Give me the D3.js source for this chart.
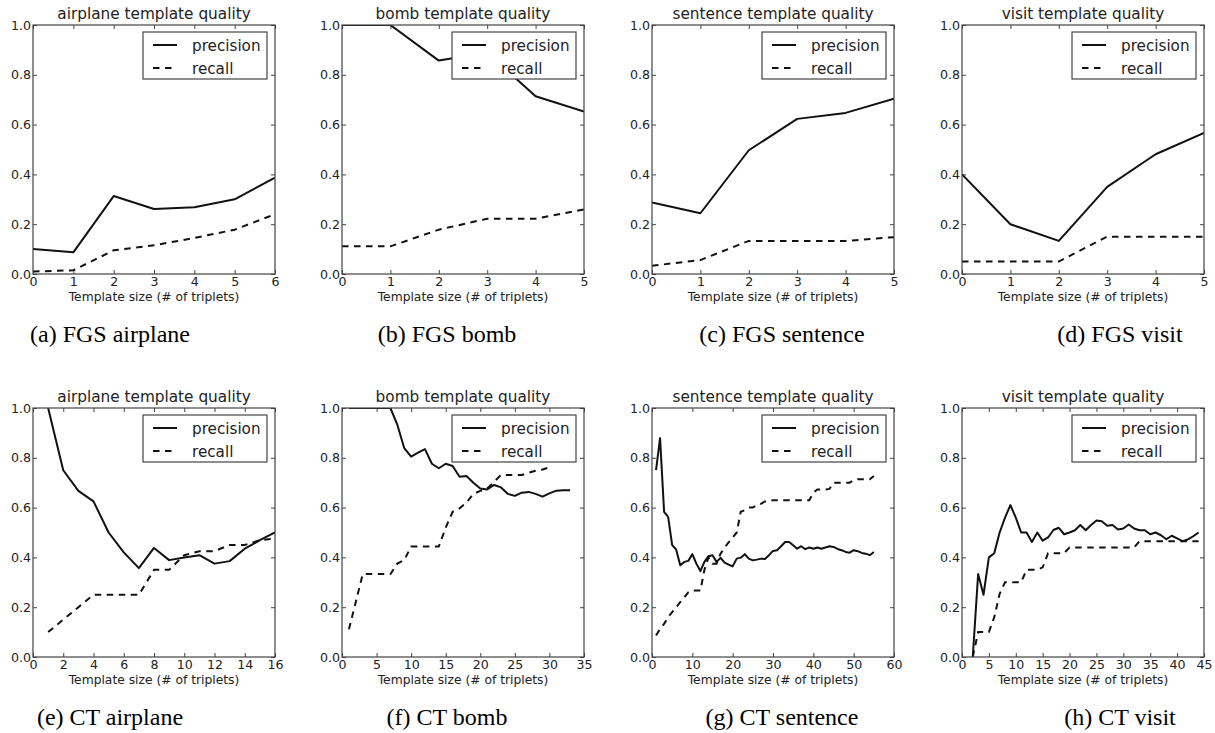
<!DOCTYPE html>
<html>
<head>
<meta charset="utf-8">
<script src="https://cdn.jsdelivr.net/npm/d3@7/dist/d3.min.js"></script>
<style>
  body { margin: 0; background: #fff; }
  svg { display: block; }
  .tick text { font-family: "DejaVu Sans", sans-serif; font-size: 12.6px; fill: #222; }
  .tick line { stroke: #444; }
</style>
</head>
<body>
<div id="chart"></div>
<script>
// ---- data ----
var seriesNames = ["precision", "recall"];
var xLabel = "Template size (# of triplets)";
var yTicks = [0, 0.2, 0.4, 0.6, 0.8, 1.0];

// FGS (top row), template sizes start at 0
var fgsAirplanePrecision = [0.10, 0.087, 0.313, 0.261, 0.268, 0.30, 0.387];
var fgsAirplaneRecall    = [0.01, 0.015, 0.095, 0.115, 0.145, 0.178, 0.24];
var fgsBombPrecision     = [1.0, 1.0, 0.857, 0.889, 0.714, 0.652];
var fgsBombRecall        = [0.111, 0.111, 0.178, 0.222, 0.222, 0.259];
var fgsSentencePrecision = [0.287, 0.244, 0.497, 0.623, 0.647, 0.704];
var fgsSentenceRecall    = [0.033, 0.056, 0.133, 0.133, 0.133, 0.148];
var fgsVisitPrecision    = [0.40, 0.20, 0.133, 0.35, 0.481, 0.567];
var fgsVisitRecall       = [0.05, 0.05, 0.05, 0.15, 0.15, 0.15];

// CT (bottom row)
var ctAirplaneStart = 1;
var ctAirplanePrecision = [1.0, 0.75, 0.667, 0.625, 0.5, 0.42, 0.357, 0.438, 0.389, 0.40, 0.409, 0.375, 0.385, 0.435, 0.469, 0.50];
var ctAirplaneRecall    = [0.10, 0.15, 0.20, 0.25, 0.25, 0.25, 0.25, 0.35, 0.35, 0.409, 0.425, 0.425, 0.45, 0.45, 0.469, 0.476];

var ctBombStart = 1;
var ctBombPrecision = [1, 1, 1, 1, 1, 1, 1, 0.933, 0.839, 0.805, 0.821, 0.835, 0.776, 0.758, 0.776, 0.767, 0.724,
  0.727, 0.70, 0.677, 0.673, 0.691, 0.681, 0.655, 0.647, 0.66, 0.663, 0.655, 0.644, 0.657, 0.668, 0.67, 0.67];
var ctBombRecall = [0.111, 0.222, 0.333, 0.333, 0.333, 0.333, 0.333, 0.375, 0.389, 0.444, 0.444, 0.444, 0.444, 0.444,
  0.52, 0.583, 0.597, 0.62, 0.655, 0.667, 0.677, 0.704, 0.731, 0.731, 0.731, 0.731, 0.74, 0.748, 0.753, 0.762];

var ctSentenceStart = 1;
var ctSentencePrecision = [0.751, 0.879, 0.583, 0.563, 0.449, 0.431, 0.368, 0.382, 0.386, 0.413, 0.375, 0.345, 0.382,
  0.405, 0.409, 0.382, 0.398, 0.379, 0.371, 0.364, 0.395, 0.399, 0.413, 0.395, 0.388, 0.391, 0.395, 0.394, 0.409,
  0.426, 0.429, 0.445, 0.462, 0.462, 0.449, 0.435, 0.445, 0.433, 0.44, 0.435, 0.44, 0.435, 0.44, 0.445, 0.442,
  0.434, 0.429, 0.422, 0.419, 0.429, 0.425, 0.418, 0.415, 0.409, 0.422];
var ctSentenceRecall = [0.086, 0.113, 0.133, 0.16, 0.18, 0.20, 0.22, 0.24, 0.26, 0.267, 0.267, 0.267, 0.35, 0.40,
  0.375, 0.375, 0.415, 0.44, 0.46, 0.48, 0.50, 0.583, 0.59, 0.60, 0.60, 0.61, 0.615, 0.625, 0.625, 0.63, 0.63,
  0.63, 0.63, 0.63, 0.63, 0.63, 0.63, 0.63, 0.63, 0.66, 0.673, 0.673, 0.673, 0.675, 0.70, 0.70, 0.70, 0.70, 0.70,
  0.711, 0.714, 0.714, 0.714, 0.714, 0.727];

var ctVisitStart = 2;
var ctVisitPrecision = [0, 0.333, 0.25, 0.40, 0.417, 0.50, 0.56, 0.61, 0.56, 0.50, 0.50, 0.462, 0.50, 0.467, 0.48,
  0.51, 0.519, 0.493, 0.50, 0.509, 0.53, 0.509, 0.53, 0.548, 0.545, 0.527, 0.53, 0.512, 0.516, 0.532, 0.516,
  0.509, 0.509, 0.493, 0.50, 0.489, 0.473, 0.487, 0.476, 0.465, 0.472, 0.485, 0.50];
var ctVisitRecall = [0, 0.10, 0.10, 0.10, 0.16, 0.254, 0.30, 0.30, 0.30, 0.30, 0.35, 0.35, 0.35, 0.36, 0.417, 0.417,
  0.417, 0.417, 0.44, 0.44, 0.44, 0.44, 0.44, 0.44, 0.44, 0.44, 0.44, 0.44, 0.44, 0.44, 0.44, 0.465, 0.465, 0.465,
  0.465, 0.465, 0.465, 0.465, 0.465, 0.465, 0.465, 0.465, 0.465];

var titles = ["airplane template quality", "bomb template quality", "sentence template quality", "visit template quality"];
var captions = ["(a) FGS airplane", "(b) FGS bomb", "(c) FGS sentence", "(d) FGS visit",
                "(e) CT airplane", "(f) CT bomb", "(g) CT sentence", "(h) CT visit"];
var xMaxes = [6, 5, 5, 5, 16, 35, 60, 45];
var xTickLists = [
  [0, 1, 2, 3, 4, 5, 6], [0, 1, 2, 3, 4, 5], [0, 1, 2, 3, 4, 5], [0, 1, 2, 3, 4, 5],
  [0, 2, 4, 6, 8, 10, 12, 14, 16], [0, 5, 10, 15, 20, 25, 30, 35],
  [0, 10, 20, 30, 40, 50, 60], [0, 5, 10, 15, 20, 25, 30, 35, 40, 45]
];

var panels = [
  { start: 0, p: fgsAirplanePrecision, r: fgsAirplaneRecall },
  { start: 0, p: fgsBombPrecision, r: fgsBombRecall },
  { start: 0, p: fgsSentencePrecision, r: fgsSentenceRecall },
  { start: 0, p: fgsVisitPrecision, r: fgsVisitRecall },
  { start: ctAirplaneStart, p: ctAirplanePrecision, r: ctAirplaneRecall },
  { start: ctBombStart, p: ctBombPrecision, r: ctBombRecall },
  { start: ctSentenceStart, p: ctSentencePrecision, r: ctSentenceRecall },
  { start: ctVisitStart, p: ctVisitPrecision, r: ctVisitRecall }
];

// ---- layout ----
var width = 1215, height = 733;
var panelLeft = [33, 342, 652, 962];
var rowTop = [25, 408];
var pw = 242, ph = 249;
var captionX = [110, 447, 782, 1120];
var captionY = [342, 725];
var dash = "6.5,5.5";

var svg = d3.select("#chart").append("svg")
    .attr("width", width)
    .attr("height", height);

svg.append("rect").attr("width", width).attr("height", height).attr("fill", "#fff");

panels.forEach(function (pd, k) {
  var col = k % 4, row = Math.floor(k / 4);

  var x = d3.scaleLinear().domain([0, xMaxes[k]]).range([0, pw]);
  var y = d3.scaleLinear().domain([0, 1]).range([ph, 0]);

  var g = svg.append("g")
      .attr("transform", "translate(" + panelLeft[col] + "," + rowTop[row] + ")");

  g.append("clipPath").attr("id", "clip" + k)
    .append("rect").attr("width", pw).attr("height", ph);

  // axes, ticks pointing inward on all four sides
  g.append("g")
      .attr("transform", "translate(0," + ph + ")")
      .call(d3.axisBottom(x).tickValues(xTickLists[k]).tickFormat(d3.format("d"))
        .tickSizeInner(-4).tickSizeOuter(0).tickPadding(3.5))
      .call(function (a) { a.select(".domain").remove(); });
  g.append("g")
      .call(d3.axisTop(x).tickValues(xTickLists[k]).tickSizeInner(-4).tickSizeOuter(0).tickFormat(""))
      .call(function (a) { a.select(".domain").remove(); });
  g.append("g")
      .call(d3.axisLeft(y).tickValues(yTicks).tickFormat(d3.format(".1f")).tickSizeInner(-4).tickSizeOuter(0).tickPadding(2))
      .call(function (a) { a.select(".domain").remove(); });
  g.append("g")
      .attr("transform", "translate(" + pw + ",0)")
      .call(d3.axisRight(y).tickValues(yTicks).tickSizeInner(-4).tickSizeOuter(0).tickFormat(""))
      .call(function (a) { a.select(".domain").remove(); });

  var line = d3.line()
      .x(function (d, i) { return x(pd.start + i); })
      .y(function (d) { return y(d); });

  var lines = g.append("g").attr("clip-path", "url(#clip" + k + ")");
  lines.append("path")
      .datum(pd.p)
      .attr("d", line)
      .attr("fill", "none")
      .attr("stroke", "#111")
      .attr("stroke-width", 2)
      .attr("stroke-linejoin", "round");
  lines.append("path")
      .datum(pd.r)
      .attr("d", line)
      .attr("fill", "none")
      .attr("stroke", "#111")
      .attr("stroke-width", 2)
      .attr("stroke-dasharray", dash);

  // frame
  g.append("rect")
      .attr("width", pw).attr("height", ph)
      .attr("fill", "none")
      .attr("stroke", "#444")
      .attr("stroke-width", 1.2);

  // title
  g.append("text")
      .attr("x", pw / 2).attr("y", -6)
      .attr("text-anchor", "middle")
      .attr("font-family", "DejaVu Sans, sans-serif")
      .attr("font-size", 15.3)
      .attr("fill", "#222")
      .text(titles[col]);

  // x label
  g.append("text")
      .attr("x", pw / 2).attr("y", ph + 27)
      .attr("text-anchor", "middle")
      .attr("font-family", "DejaVu Sans, sans-serif")
      .attr("font-size", 12.3)
      .attr("fill", "#222")
      .text(xLabel);

  // legend
  var lgW = 124, lgH = 47;
  var lg = g.append("g").attr("transform", "translate(" + (pw - 8 - lgW) + ",7)");
  lg.append("rect")
      .attr("width", lgW).attr("height", lgH)
      .attr("fill", "#fff")
      .attr("stroke", "#444")
      .attr("stroke-width", 1.2);
  seriesNames.forEach(function (name, i) {
    var ly = 13 + i * 23;
    lg.append("line")
        .attr("x1", 10).attr("x2", 34)
        .attr("y1", ly).attr("y2", ly)
        .attr("stroke", "#111")
        .attr("stroke-width", 2)
        .attr("stroke-dasharray", i === 1 ? dash : null);
    lg.append("text")
        .attr("x", 49).attr("y", ly + 6)
        .attr("font-family", "DejaVu Sans, sans-serif")
        .attr("font-size", 15.2)
        .attr("fill", "#222")
        .text(name);
  });

  // sub-figure caption
  svg.append("text")
      .attr("x", captionX[col]).attr("y", captionY[row])
      .attr("text-anchor", "middle")
      .attr("font-family", "Liberation Serif, Times New Roman, serif")
      .attr("font-size", 24)
      .attr("fill", "#000")
      .text(captions[k]);
});
</script>
</body>
</html>
